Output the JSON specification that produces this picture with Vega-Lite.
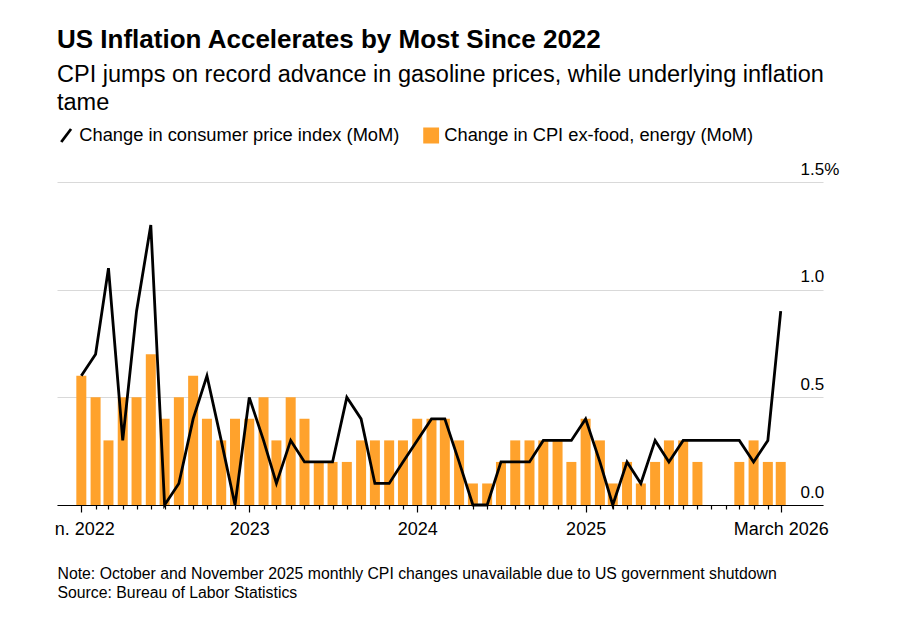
{
  "$schema": "https://vega.github.io/schema/vega-lite/v6.json",
  "width": 766,
  "height": 323,
  "autosize": {"type": "none"},
  "padding": {"left": 57, "top": 182, "right": 85, "bottom": 119},
  "background": "white",
  "config": {"view": {"stroke": null}, "font": "Liberation Sans"},
  "title": {
    "text": "US Inflation Accelerates by Most Since 2022",
    "subtitle": ["CPI jumps on record advance in gasoline prices, while underlying inflation", "tame"],
    "anchor": "start",
    "frame": "group",
    "font": "Liberation Sans",
    "fontSize": 26,
    "fontWeight": "bold",
    "color": "#000000",
    "subtitleFont": "Liberation Sans",
    "subtitleFontSize": 23.5,
    "subtitleColor": "#000000",
    "subtitleLineHeight": 28,
    "subtitlePadding": 10,
    "offset": 12
  },
  "data": {
    "values": [
      {"date": "2022-01-01", "cpi": 0.6, "core": 0.6},
      {"date": "2022-02-01", "cpi": 0.7, "core": 0.5},
      {"date": "2022-03-01", "cpi": 1.1, "core": 0.3},
      {"date": "2022-04-01", "cpi": 0.3, "core": 0.5},
      {"date": "2022-05-01", "cpi": 0.9, "core": 0.5},
      {"date": "2022-06-01", "cpi": 1.3, "core": 0.7},
      {"date": "2022-07-01", "cpi": 0.0, "core": 0.4},
      {"date": "2022-08-01", "cpi": 0.1, "core": 0.5},
      {"date": "2022-09-01", "cpi": 0.4, "core": 0.6},
      {"date": "2022-10-01", "cpi": 0.6, "core": 0.4},
      {"date": "2022-11-01", "cpi": 0.3, "core": 0.3},
      {"date": "2022-12-01", "cpi": 0.0, "core": 0.4},
      {"date": "2023-01-01", "cpi": 0.5, "core": 0.4},
      {"date": "2023-02-01", "cpi": 0.3, "core": 0.5},
      {"date": "2023-03-01", "cpi": 0.1, "core": 0.3},
      {"date": "2023-04-01", "cpi": 0.3, "core": 0.5},
      {"date": "2023-05-01", "cpi": 0.2, "core": 0.4},
      {"date": "2023-06-01", "cpi": 0.2, "core": 0.2},
      {"date": "2023-07-01", "cpi": 0.2, "core": 0.2},
      {"date": "2023-08-01", "cpi": 0.5, "core": 0.2},
      {"date": "2023-09-01", "cpi": 0.4, "core": 0.3},
      {"date": "2023-10-01", "cpi": 0.1, "core": 0.3},
      {"date": "2023-11-01", "cpi": 0.1, "core": 0.3},
      {"date": "2023-12-01", "cpi": 0.2, "core": 0.3},
      {"date": "2024-01-01", "cpi": 0.3, "core": 0.4},
      {"date": "2024-02-01", "cpi": 0.4, "core": 0.4},
      {"date": "2024-03-01", "cpi": 0.4, "core": 0.4},
      {"date": "2024-04-01", "cpi": 0.2, "core": 0.3},
      {"date": "2024-05-01", "cpi": 0.0, "core": 0.1},
      {"date": "2024-06-01", "cpi": 0.0, "core": 0.1},
      {"date": "2024-07-01", "cpi": 0.2, "core": 0.2},
      {"date": "2024-08-01", "cpi": 0.2, "core": 0.3},
      {"date": "2024-09-01", "cpi": 0.2, "core": 0.3},
      {"date": "2024-10-01", "cpi": 0.3, "core": 0.3},
      {"date": "2024-11-01", "cpi": 0.3, "core": 0.3},
      {"date": "2024-12-01", "cpi": 0.3, "core": 0.2},
      {"date": "2025-01-01", "cpi": 0.4, "core": 0.4},
      {"date": "2025-02-01", "cpi": 0.2, "core": 0.3},
      {"date": "2025-03-01", "cpi": 0.0, "core": 0.1},
      {"date": "2025-04-01", "cpi": 0.2, "core": 0.2},
      {"date": "2025-05-01", "cpi": 0.1, "core": 0.1},
      {"date": "2025-06-01", "cpi": 0.3, "core": 0.2},
      {"date": "2025-07-01", "cpi": 0.2, "core": 0.3},
      {"date": "2025-08-01", "cpi": 0.3, "core": 0.3},
      {"date": "2025-09-01", "cpi": 0.3, "core": 0.2},
      {"date": "2025-12-01", "cpi": 0.3, "core": 0.2},
      {"date": "2026-01-01", "cpi": 0.2, "core": 0.3},
      {"date": "2026-02-01", "cpi": 0.3, "core": 0.2},
      {"date": "2026-03-01", "cpi": 0.9, "core": 0.2}
    ]
  },
  "encoding": {
    "x": {
      "field": "date",
      "type": "temporal",
      "scale": {
        "type": "utc",
        "domain": [
          {"year": 2021, "month": 11, "date": 20, "utc": true},
          {"year": 2026, "month": 5, "date": 21, "utc": true}
        ]
      },
      "axis": {
        "tickCount": {"interval": "month", "step": 1},
        "grid": false,
        "zindex": 1,
        "domainColor": "#000000",
        "domainWidth": 1.2,
        "tickColor": "#000000",
        "tickWidth": 1.2,
        "tickSize": {
          "condition": {
            "test": "(utcmonth(datum.value) == 0 && utcyear(datum.value) < 2026) || (utcyear(datum.value) == 2026 && utcmonth(datum.value) == 2)",
            "value": 7
          },
          "value": 4
        },
        "tickOpacity": {
          "condition": {"test": "datum.value < 1640900000000 || datum.value > 1772400000000", "value": 0},
          "value": 1
        },
        "labelExpr": "utcmonth(datum.value) == 0 && utcyear(datum.value) < 2026 ? (utcyear(datum.value) == 2022 ? 'n. 2022' : utcFormat(datum.value, '%Y')) : ((utcyear(datum.value) == 2026 && utcmonth(datum.value) == 2) ? 'March 2026' : '')",
        "labelOffset": {
          "condition": {"test": "utcyear(datum.value) == 2022 && utcmonth(datum.value) == 0", "value": 3},
          "value": 0
        },
        "labelFontSize": 18,
        "labelFont": "Liberation Sans",
        "labelColor": "#000000",
        "labelPadding": 8,
        "labelOverlap": false,
        "labelFlush": false,
        "title": [
          "Note: October and November 2025 monthly CPI changes unavailable due to US government shutdown",
          "Source: Bureau of Labor Statistics"
        ],
        "titleAnchor": "start",
        "titleAlign": "left",
        "titleBaseline": "top",
        "titleFont": "Liberation Sans",
        "titleFontSize": 15.8,
        "titleFontWeight": "normal",
        "titleColor": "#000000",
        "titleLineHeight": 19,
        "titlePadding": 28
      }
    },
    "color": {
      "scale": {
        "domain": ["Change in consumer price index (MoM)", "Change in CPI ex-food, energy (MoM)"],
        "range": ["#000000", "#ffa22c"]
      },
      "legend": {
        "orient": "top",
        "direction": "horizontal",
        "title": null,
        "columnPadding": 19,
        "symbolType": "square",
        "symbolSize": 170,
        "labelFontSize": 18.3,
        "labelFont": "Liberation Sans",
        "labelColor": "#000000",
        "labelOffset": 4,
        "labelLimit": 500,
        "offset": 34,
        "encode": {
          "symbols": {
            "update": {
              "shape": {"signal": "datum.value === 'Change in consumer price index (MoM)' ? 'M-0.75,1L0.75,-1' : 'square'"},
              "fill": {"signal": "datum.value === 'Change in consumer price index (MoM)' ? 'transparent' : '#ffa22c'"},
              "stroke": {"signal": "datum.value === 'Change in consumer price index (MoM)' ? '#000000' : 'transparent'"},
              "strokeWidth": {"value": 2.8},
              "opacity": {"value": 1}
            }
          }
        }
      }
    }
  },
  "layer": [
    {
      "mark": {"type": "bar", "width": 10},
      "encoding": {
        "y": {
          "field": "core",
          "type": "quantitative",
          "scale": {"domain": [0, 1.5], "nice": false},
          "axis": {
            "orient": "right",
            "values": [0, 0.5, 1, 1.5],
            "title": null,
            "domain": false,
            "ticks": false,
            "grid": true,
            "gridColor": "#d9d9d9",
            "gridWidth": 1.2,
            "labelAlign": "left",
            "labelPadding": -23,
            "labelBaseline": "alphabetic",
            "labelOffset": -8,
            "labelFontSize": 17,
            "labelFont": "Liberation Sans",
            "labelColor": "#000000",
            "labelExpr": "datum.value == 1.5 ? '1.5%' : format(datum.value, '.1f')"
          }
        },
        "color": {"datum": "Change in CPI ex-food, energy (MoM)"}
      }
    },
    {
      "mark": {"type": "line", "strokeWidth": 2.8, "strokeJoin": "miter"},
      "encoding": {
        "y": {
          "field": "cpi",
          "type": "quantitative",
          "scale": {"domain": [0, 1.5], "nice": false},
          "axis": {
            "orient": "right",
            "values": [0, 0.5, 1, 1.5],
            "title": null,
            "domain": false,
            "ticks": false,
            "grid": true,
            "gridColor": "#d9d9d9",
            "gridWidth": 1.2,
            "labelAlign": "left",
            "labelPadding": -23,
            "labelBaseline": "alphabetic",
            "labelOffset": -8,
            "labelFontSize": 17,
            "labelFont": "Liberation Sans",
            "labelColor": "#000000",
            "labelExpr": "datum.value == 1.5 ? '1.5%' : format(datum.value, '.1f')"
          }
        },
        "color": {"datum": "Change in consumer price index (MoM)"}
      }
    }
  ]
}
